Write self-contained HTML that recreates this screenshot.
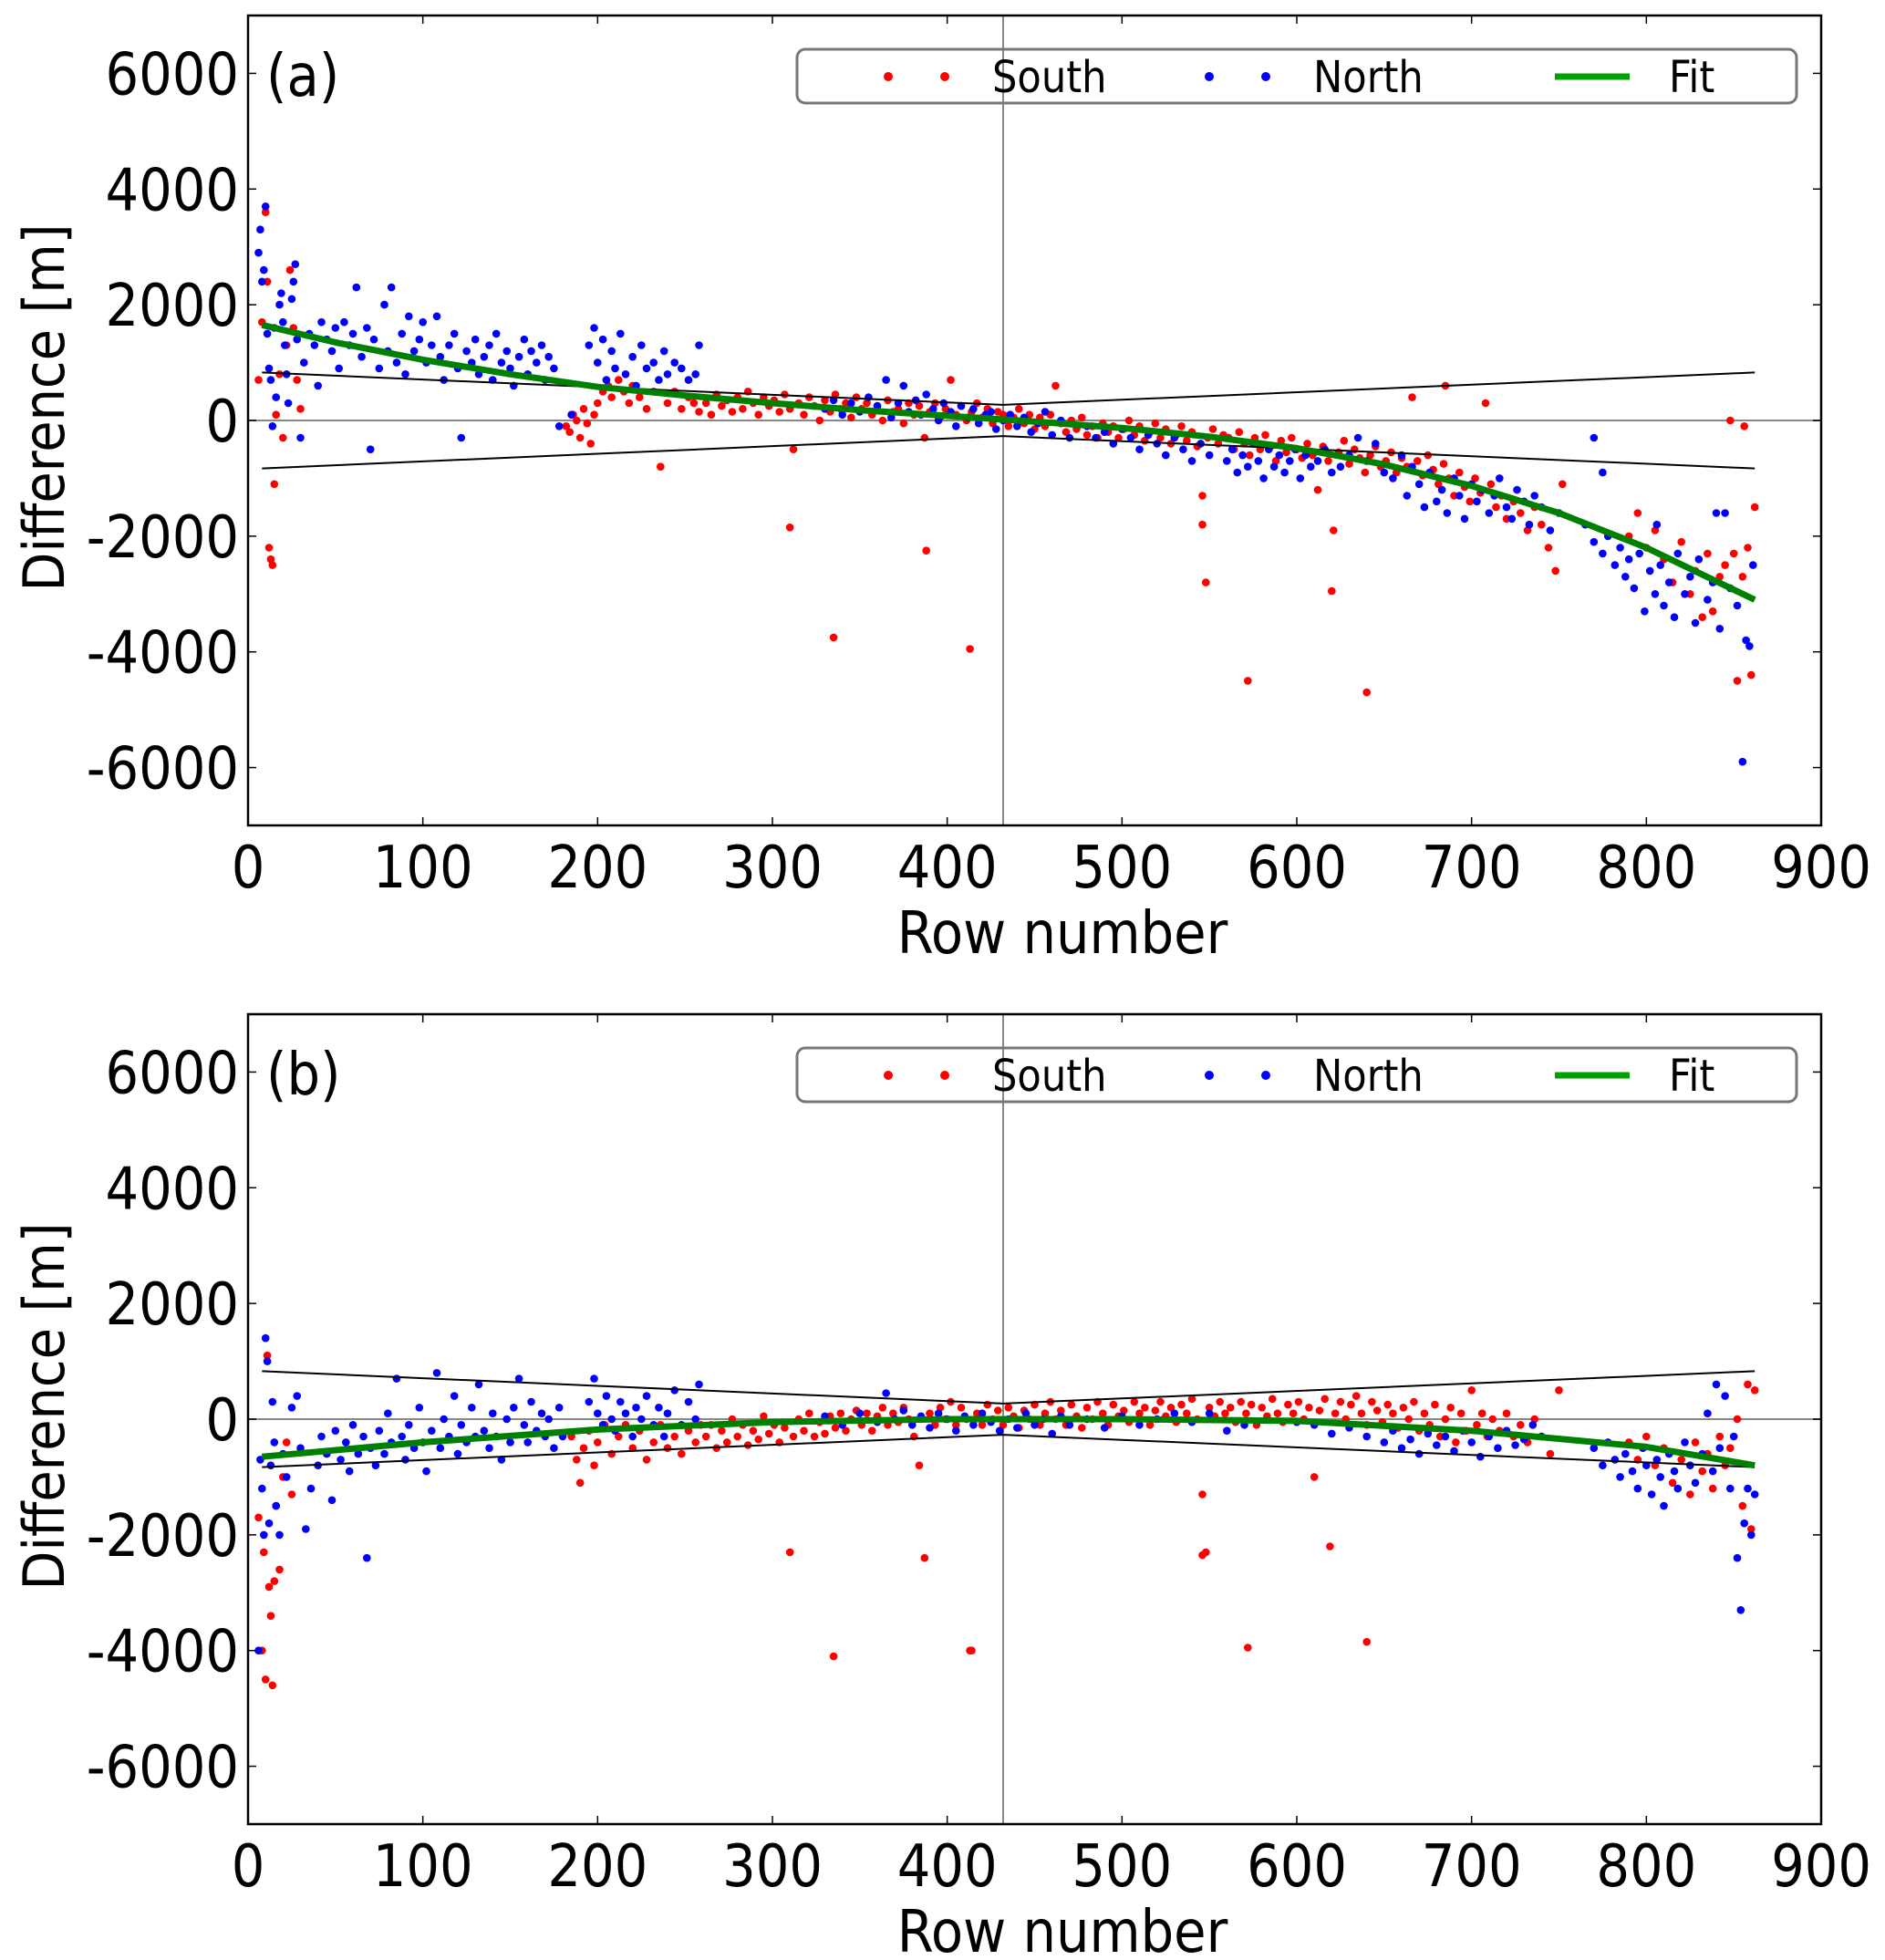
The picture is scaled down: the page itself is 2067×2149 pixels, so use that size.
<!DOCTYPE html>
<html><head><meta charset="utf-8"><style>
html,body{margin:0;padding:0;background:#fff;}
svg{display:block;font-family:"DejaVu Sans Condensed","Liberation Sans",sans-serif;}
</style></head><body>
<svg id="chart" width="2067" height="2149" viewBox="0 0 2067 2149" xmlns="http://www.w3.org/2000/svg"></svg>
<script>
const xTicks=[0,100,200,300,400,500,600,700,800,900];
const yTicks=[-6000,-4000,-2000,0,2000,4000,6000];
const envRows=[8,432,862];
const envVals=[830,270,830];
const fitRowsA=[8,50,100,150,200,250,300,350,400,450,500,550,600,650,700,750,800,862];
const fitValsA=[1650,1350,1050,800,580,430,300,180,80,-20,-130,-280,-480,-760,-1130,-1600,-2200,-3100];
const fitRowsB=[8,100,200,300,400,500,600,700,800,862];
const fitValsB=[-650,-400,-180,-50,0,0,-30,-200,-480,-800];
const northA=[[6,2900],[7,3300],[8,2400],[9,2600],[10,3700],[11,1500],[12,900],[13,700],[14,-100],[15,1600],[16,400],[18,2000],[19,2200],[20,1700],[21,1300],[22,800],[23,300],[25,2100],[26,2400],[27,2700],[28,1400],[30,-300],[32,1000],[35,1500],[38,1300],[40,600],[42,1700],[45,1400],[48,1200],[50,1600],[52,900],[55,1700],[58,1300],[60,1500],[62,2300],[65,1100],[68,1600],[70,-500],[72,1400],[75,900],[78,2000],[80,1200],[82,2300],[85,1000],[88,1500],[90,800],[92,1800],[95,1200],[98,1400],[100,1700],[102,1000],[105,1300],[108,1800],[110,1100],[112,700],[115,1300],[118,1500],[120,900],[122,-300],[125,1200],[128,1000],[130,1400],[132,800],[135,1100],[138,1300],[140,700],[142,1500],[145,1000],[148,1200],[150,900],[152,600],[155,1100],[158,1400],[160,800],[162,1200],[165,1000],[168,1300],[170,700],[172,1100],[175,900],[178,-100],[185,100],[195,1300],[198,1600],[200,1000],[203,1400],[205,700],[208,1200],[210,900],[213,1500],[216,800],[220,1100],[222,600],[225,1300],[228,900],[232,1000],[235,700],[238,1200],[240,800],[244,1000],[248,900],[252,700],[256,800],[258,1300],
[330,200],[335,350],[340,100],[345,300],[350,150],[355,400],[360,250],[365,700],[368,50],[372,300],[375,600],[378,150],[382,350],[385,100],[388,450],[392,200],[395,0],[398,300],[402,150],[405,-100],[408,250],[412,50],[415,200],[418,-50],[422,100],[425,150],[428,-150],[432,0],[436,100],[440,-100],[444,50],[448,-200],[452,-50],[456,150],[460,-250],[465,0],[470,-300],
[480,-100],[485,-300],[490,-200],[495,-400],[500,-150],[505,-300],[510,-500],[515,-250],[520,-400],[525,-600],[530,-300],[535,-500],[540,-700],[545,-400],[550,-600],
[560,-700],[563,-500],[566,-900],[569,-600],[572,-800],[575,-400],[578,-700],[581,-1000],[584,-500],[587,-800],[590,-600],[593,-900],[596,-700],[599,-500],[602,-1000],[605,-600],[608,-800],[612,-700],[616,-500],[620,-900],[625,-800],[630,-600],[635,-300],[640,-700],[645,-400],[650,-900],
[655,-1000],[660,-600],[663,-1300],[666,-800],[670,-1100],[673,-1500],[676,-900],[680,-1400],[683,-1200],[686,-1600],[690,-1000],[693,-1300],[696,-1700],[700,-1100],[703,-1400],[706,-1200],[710,-1600],[713,-1300],[716,-1000],[720,-1500],[723,-1700],[726,-1200],[730,-1400],[733,-1800],[736,-1300],[740,-1500],[745,-1900],[750,-1600],[770,-300],[775,-900],
[765,-1800],[770,-2100],[775,-2300],[778,-2000],[782,-2500],[785,-2200],[788,-2700],[790,-2400],[793,-2900],[796,-2300],[799,-3300],[802,-2600],[805,-3000],[808,-2500],[810,-3200],[813,-2800],[816,-3400],[818,-2300],[822,-3000],[825,-2700],[828,-3500],[830,-2400],[835,-3100],[838,-2800],[842,-3600],[845,-1600],[848,-2900],[852,-3200],[855,-5900],[857,-3800],[859,-3900],[861,-2500],[840,-1600],[806,-1800]];
const southA=[[6,700],[8,1700],[10,3600],[11,2400],[12,-2200],[13,-2400],[14,-2500],[15,-1100],[16,100],[18,800],[20,-300],[22,1300],[24,2600],[26,1600],[28,700],[30,200],
[182,-100],[184,-200],[186,100],[188,0],[190,-300],[192,200],[194,-50],[196,-400],[198,100],[200,300],[203,500],[206,600],[208,400],[212,700],[215,500],[218,300],[220,600],[224,400],[228,200],[232,500],[236,-800],[240,300],[244,500],[248,200],[252,400],[255,300],[258,150],
[262,300],[265,100],[268,450],[271,250],[274,350],[277,150],[280,400],[283,200],[286,500],[289,300],[292,100],[295,400],[298,250],[301,350],[304,150],[307,450],[310,200],[312,-500],[315,300],[318,100],[321,400],[324,250],[327,0],[330,350],[333,150],[336,450],[339,200],[342,300],[345,50],[348,400],[351,200],[354,300],[357,100],[360,250],[363,0],[366,350],[369,150],[372,200],[375,-50],[378,300],[381,100],[384,250],[387,-300],[390,150],[393,300],[396,50],[399,200],[402,700],[405,100],[408,250],[411,0],[414,150],[417,300],[420,50],[423,200],[426,-50],[429,150],[432,100],[435,-100],[438,50],[441,200],[444,-50],[447,100],[450,-150],[453,50],[456,-100],[459,100],[462,600],[465,-50],[468,-200],[471,0],[474,-150],[477,50],[480,-250],[483,-100],[486,-300],[489,-50],[492,-200],[495,-100],[498,-300],[501,-150],[504,0],[507,-250],[510,-100],[513,-350],[516,-200],[519,-50],[522,-300],[525,-150],[528,-400],[531,-250],[534,-100],[537,-350],[540,-200],[543,-450],[546,-1800],[549,-300],[552,-150],[555,-400],[558,-250],
[561,-300],[564,-500],[567,-200],[570,-400],[573,-600],[576,-300],[579,-500],[582,-250],[585,-450],[588,-700],[591,-350],[594,-550],[597,-300],[600,-500],[603,-650],[606,-400],[609,-600],[612,-1200],[615,-450],[618,-700],[621,-1900],[624,-550],[627,-350],[630,-750],[633,-500],[636,-650],[639,-900],[642,-600],[645,-450],[648,-800],[651,-700],[654,-550],[657,-900],[660,-650],[663,-800],[666,400],[669,-700],[672,-950],[675,-600],[678,-850],[681,-1100],[684,-750],[687,-1000],[690,-1300],[693,-900],[696,-1150],[699,-1400],[702,-1000],[705,-1250],[708,300],[711,-1100],[714,-1500],[717,-1300],[720,-1700],[724,-1400],[728,-1600],[732,-1900],[736,-1500],[740,-1800],[744,-2200],[748,-2600],[752,-1100],
[335,-3750],[413,-3950],[572,-4500],[640,-4700],[548,-2800],[310,-1850],[388,-2250],[620,-2950],[685,600],[546,-1300],
[790,-2000],[795,-1600],[800,-2200],[805,-1900],[810,-2400],[815,-2800],[820,-2100],[825,-3000],[828,-2600],[832,-3400],[835,-2300],[838,-3300],[842,-2700],[845,-2500],[848,0],[850,-2300],[852,-4500],[855,-2700],[858,-2200],[860,-4400],[862,-1500],[856,-100]];
const northB=[[6,-4000],[7,-700],[8,-1200],[9,-2000],[10,1400],[11,1000],[12,-1800],[13,-800],[14,300],[15,-400],[16,-1500],[18,-2000],[20,-600],[22,-1000],[25,200],[28,400],[30,-500],[33,-1900],[36,-1200],[40,-800],[42,-300],[45,-600],[48,-1400],[50,-200],[53,-700],[56,-400],[58,-900],[60,-100],[63,-600],[66,-300],[68,-2400],[70,-500],[73,-800],[75,-200],[78,-600],[80,100],[82,-400],[85,700],[88,-300],[90,-700],[92,-100],[95,-500],[98,200],[100,-400],[102,-900],[105,-200],[108,800],[110,-500],[112,0],[115,-300],[118,400],[120,-600],[122,-100],[125,-400],[128,200],[130,-300],[132,600],[135,-200],[138,-500],[140,100],[142,-300],[145,-700],[148,0],[150,-400],[152,200],[155,700],[158,-100],[160,-400],[162,300],[165,-200],[168,100],[170,-300],[172,0],[175,-500],[178,200],[180,-300],[195,300],[198,700],[200,100],[203,-100],[205,400],[208,0],[210,-200],[213,300],[216,100],[220,-300],[222,200],[225,0],[228,400],[232,-100],[235,200],[238,-300],[240,100],[244,500],[248,-100],[252,300],[256,0],[258,600],
[330,50],[340,-100],[350,100],[360,-50],[365,450],[370,0],[375,150],[380,-100],[385,50],[390,-150],[395,100],[400,0],[405,-200],[410,50],[415,-100],[420,100],[425,-50],[430,-200],[435,0],[440,-150],[445,100],[450,-100],[455,0],[460,-250],[465,50],[470,-100],[480,0],[490,-150],[500,50],[510,-100],[520,0],[530,100],[540,-50],[550,100],[560,-200],[570,-100],
[600,-50],[610,-100],[620,-250],[630,-150],[640,-300],[650,-400],[655,-200],[660,-500],[665,-350],[670,-600],[675,-250],[680,-450],[685,-300],[690,-550],[695,-200],[700,-400],[705,-650],[710,-300],[715,-500],[720,-200],[725,-450],[730,-350],[735,-100],[740,-300],
[770,-500],[775,-800],[778,-400],[782,-700],[785,-1000],[788,-600],[792,-900],[795,-1200],[798,-500],[800,-800],[803,-1300],[806,-700],[808,-1000],[810,-1500],[813,-600],[816,-900],[818,-1200],[822,-400],[825,-800],[828,-1100],[832,-600],[835,100],[838,-900],[842,-500],[845,400],[848,-1200],[850,-300],[852,-2400],[854,-3300],[856,-1800],[858,-1200],[860,-2000],[862,-1300],[840,600]];
const southB=[[6,-1700],[8,-4000],[9,-2300],[10,-4500],[11,1100],[12,-2900],[13,-3400],[14,-4600],[15,-2800],[16,-1500],[18,-2600],[20,-1000],[22,-400],[25,-1300],
[185,-300],[188,-700],[190,-1100],[192,-500],[195,-200],[198,-800],[200,-400],[204,-100],[208,-600],[212,-300],[216,-100],[220,-500],[224,-200],[228,-700],[232,-400],[236,-100],[240,-500],[244,-300],[248,-600],[252,-200],[256,-400],[259,-100],
[262,-300],[265,-100],[268,-500],[271,-200],[274,-400],[277,0],[280,-300],[283,-100],[286,-450],[289,-200],[292,-350],[295,50],[298,-250],[301,-100],[304,-400],[307,-150],[310,-2300],[312,-300],[315,0],[318,-200],[321,100],[324,-300],[327,-50],[330,-250],[333,50],[336,-150],[339,100],[342,-200],[345,0],[348,150],[351,-100],[354,100],[357,-200],[360,50],[363,200],[366,-100],[369,100],[372,-50],[375,200],[378,0],[381,-300],[384,-800],[387,-2400],[390,100],[393,-100],[396,200],[399,0],[402,300],[405,-100],[408,200],[411,0],[414,-4000],[417,100],[420,-100],[423,250],[426,0],[429,150],[432,-100],[435,200],[438,50],[441,-150],[444,150],[447,0],[450,250],[453,-100],[456,100],[459,300],[462,0],[465,150],[468,-100],[471,250],[474,50],[477,-150],[480,200],[483,0],[486,300],[489,100],[492,-100],[495,250],[498,50],[501,150],[504,-50],[507,300],[510,100],[513,200],[516,-100],[519,150],[522,300],[525,50],[528,200],[531,-50],[534,250],[537,100],[540,350],[543,0],[546,-1300],[548,-2300],[550,200],[553,50],[556,300],[559,100],
[562,200],[565,-50],[568,300],[571,100],[574,250],[577,-100],[580,200],[583,50],[586,350],[589,100],[592,-50],[595,250],[598,100],[601,300],[604,0],[607,200],[610,-1000],[613,150],[616,350],[619,-2200],[622,100],[625,300],[628,0],[631,250],[634,400],[637,100],[640,-100],[643,300],[646,150],[649,-50],[652,250],[655,100],[658,-150],[661,200],[664,0],[667,300],[670,-200],[673,100],[676,-100],[679,250],[682,-300],[685,0],[688,200],[691,-400],[694,100],[697,-200],[700,500],[703,-100],[706,100],[709,-300],[712,0],[716,-200],[720,100],[724,-300],[728,-100],[732,-400],[736,0],[740,-300],[745,-600],[750,500],
[335,-4100],[413,-4000],[572,-3950],[640,-3850],[546,-2350],
[790,-400],[795,-700],[800,-300],[805,-800],[810,-500],[815,-1100],[820,-700],[825,-1300],[828,-400],[832,-900],[835,-600],[838,-1200],[842,-300],[845,-800],[848,-500],[852,0],[855,-1500],[858,600],[860,-1900],[862,500]];

const NS='http://www.w3.org/2000/svg';
const svg=document.getElementById('chart');
function mk(tag,attrs,parent){const e=document.createElementNS(NS,tag);for(const k in attrs)e.setAttribute(k,attrs[k]);(parent||svg).appendChild(e);return e;}

function panel(cfg){
  const L=272,R=1997,T=cfg.top,B=cfg.top+888;
  const xS=v=>L+(v-0)/900*(R-L);
  const yS=v=>T+(7000-v)/14000*(B-T);
  const g=mk('g',{});
  
  
  const vl=mk('line',{x1:xS(432),x2:xS(432),y1:T,y2:B,stroke:'#888','stroke-width':2},g);
  
  
  const hl=mk('line',{x1:L,x2:R,y1:yS(0),y2:yS(0),stroke:'#888','stroke-width':2},g);
  
  
  const drawPts=(arr,color,nm)=>{
    const sg=mk('g',{fill:color},g);
    
    
    arr.forEach(p=>{
      const c=mk('circle',{cx:xS(p[0]).toFixed(1),cy:yS(p[1]).toFixed(1),r:4.3},sg);
      
      
    });
  };
  drawPts(cfg.south,'#ff0000','south-points');
  drawPts(cfg.north,'#0000ff','north-points');
  [1,-1].forEach(s=>{
    const d=envRows.map((r,i)=>(i?'L':'M')+xS(r).toFixed(1)+' '+yS(s*envVals[i]).toFixed(1)).join(' ');
    const el=mk('path',{d:d,fill:'none',stroke:'#000','stroke-width':2},g);
    
    
  });
  const fd=cfg.fitRows.map((r,i)=>(i?'L':'M')+xS(r).toFixed(1)+' '+yS(cfg.fitVals[i]).toFixed(1)).join(' ');
  const fl=mk('path',{d:fd,fill:'none',stroke:'#008000','stroke-width':7,'stroke-linejoin':'round'},g);
  
  
  const fr=mk('rect',{x:L,y:T,width:R-L,height:B-T,fill:'none',stroke:'#000','stroke-width':2.5},g);
  
  
  xTicks.forEach(v=>{
    mk('line',{x1:xS(v),x2:xS(v),y1:B,y2:B-9,stroke:'#000','stroke-width':1.5},g);
    mk('line',{x1:xS(v),x2:xS(v),y1:T,y2:T+9,stroke:'#000','stroke-width':1.5},g);
    const t=mk('text',{x:xS(v),y:B+68,'text-anchor':'middle','font-size':64},g);
    t.textContent=v;
    
    
  });
  yTicks.forEach(v=>{
    mk('line',{x1:L,x2:L+9,y1:yS(v),y2:yS(v),stroke:'#000','stroke-width':1.5},g);
    mk('line',{x1:R,x2:R-9,y1:yS(v),y2:yS(v),stroke:'#000','stroke-width':1.5},g);
    const t=mk('text',{x:L-10,y:yS(v)+23,'text-anchor':'end','font-size':64},g);
    t.textContent=v;
    
    
  });
  const xt=mk('text',{x:1165,y:B+140,'text-anchor':'middle','font-size':64},g);
  xt.textContent='Row number';
  
  
  const yt=mk('text',{x:0,y:0,'text-anchor':'middle','font-size':62,transform:`translate(70 ${(T+B)/2-14}) rotate(-90)`},g);
  yt.textContent='Difference [m]';
  
  
  const pl=mk('text',{x:292,y:T+88,'font-size':64},g);
  pl.textContent=cfg.label;
  
  
  const lg=mk('g',{},g);
  
  
  const ly=T+67;
  mk('rect',{x:874,y:T+37,width:1096,height:59,rx:9,fill:'none',stroke:'#777','stroke-width':3},lg);
  [[974,'#ff0000'],[1036,'#ff0000'],[1326,'#0000ff'],[1388,'#0000ff']].forEach(d=>{
    const c=mk('circle',{cx:d[0],cy:ly,r:5,fill:d[1]},lg);
    
    
  });
  mk('line',{x1:1705,x2:1787,y1:ly,y2:ly,stroke:'#00a000','stroke-width':7},lg);
  [[1088,'South'],[1440,'North'],[1830,'Fit']].forEach(d=>{
    const t=mk('text',{x:d[0],y:ly+17,'font-size':48},lg);
    t.textContent=d[1];
    
    
  });
}
panel({name:'panel-a',top:17,label:'(a)',north:northA,south:southA,fitRows:fitRowsA,fitVals:fitValsA});
panel({name:'panel-b',top:1112,label:'(b)',north:northB,south:southB,fitRows:fitRowsB,fitVals:fitValsB});
</script>
</body></html>
